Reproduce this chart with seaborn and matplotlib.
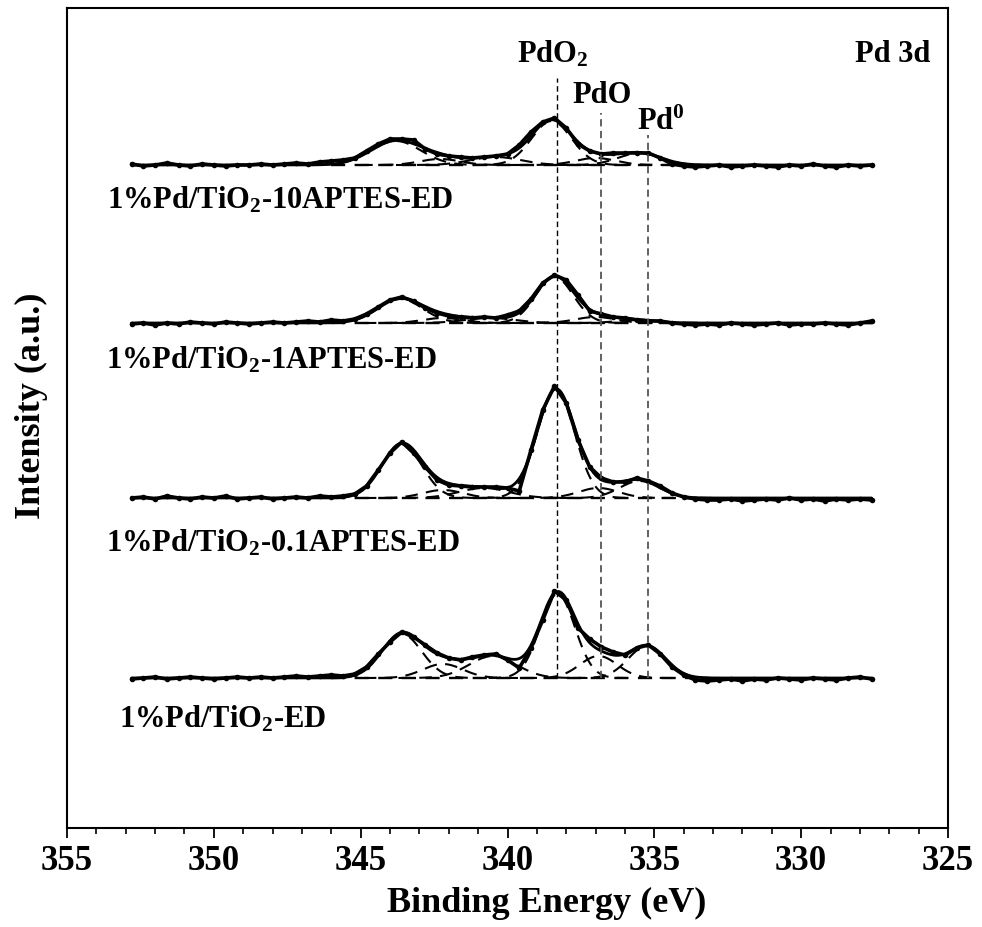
import numpy as np
import pandas as pd
import matplotlib
matplotlib.use("Agg")
import matplotlib.pyplot as plt
from matplotlib.ticker import MultipleLocator
import seaborn as sns

# ---------------- data ----------------
energy_start = 352.8
energy_step = 0.4
n_points = 64

samples = ["ED", "0.1APTES", "1APTES", "10APTES"]
sample_labels = ["1%Pd/TiO$_2$-ED", "1%Pd/TiO$_2$-0.1APTES-ED",
                 "1%Pd/TiO$_2$-1APTES-ED", "1%Pd/TiO$_2$-10APTES-ED"]
offsets = [150, 330, 505, 663]

meas_ed = [-1, 0, 1, -1, 0, 1, 0, -1, 0, 1, 0, 1, 0, 1, 2, 1, 2, 3, 2, 4,
           11, 24, 36, 46, 41, 33, 25, 20, 18, 21, 23, 24, 18, 10, 30, 58, 87, 78, 50, 39,
           31, 26, 23, 30, 33, 24, 11, 3, -2, -3, -2, -1, -3, -1, -2, 0, -1, -2, 0, -1,
           -2, 0, 1, -1]
meas_01 = [0, 1, -1, 2, 0, -1, 1, 0, 2, -1, 0, 1, -1, 0, 1, 0, 2, 1, 2, 4,
           12, 28, 45, 56, 45, 31, 18, 13, 12, 11, 11, 11, 10, 7, 48, 88, 112, 95, 58, 31,
           20, 16, 16, 20, 17, 12, 5, 1, -1, -2, -2, -1, -3, -2, -1, -2, 0, -2, -1, -3,
           -1, -2, -1, -2]
meas_1 = [-1, 0, -2, 0, -1, 1, 0, -1, 1, 0, -1, 0, 1, 0, 1, 2, 1, 3, 2, 4,
          9, 16, 23, 26, 22, 15, 10, 7, 6, 5, 6, 5, 8, 12, 24, 40, 48, 43, 28, 12,
          9, 6, 5, 3, 2, 2, 0, -1, -2, -1, -2, 0, -1, -2, -1, 0, -2, -1, -1, 0,
          -1, -2, 0, 2]
meas_10 = [1, -1, 0, 2, 0, -1, 1, 0, -1, 0, 0, 1, 0, 1, 2, 1, 3, 4, 5, 7,
           14, 21, 26, 26, 25, 16, 11, 9, 8, 7, 8, 9, 11, 20, 33, 43, 47, 37, 21, 14,
           11, 12, 12, 12, 12, 7, 1, -1, -2, -1, 0, -2, -1, 0, -1, -2, 0, -1, 1, -1,
           -2, 0, -1, 0]
measured = [meas_ed, meas_01, meas_1, meas_10]

# fitted components: PdO2 5/2, PdO 5/2, Pd0 5/2, PdO2 3/2, PdO 3/2, Pd0 3/2
centers_ed = [338.3, 336.9, 335.25, 343.6, 342.2, 340.5]
heights_ed = [84, 22, 32, 44, 14, 22]
fwhm_ed = [1.4, 1.5, 1.5, 1.6, 1.6, 1.9]

centers_01 = [338.35, 336.9, 335.5, 343.6, 342.2, 340.8]
heights_01 = [108, 10, 17, 54, 8, 10]
fwhm_01 = [1.5, 1.6, 1.6, 1.6, 1.6, 2.0]

centers_1 = [338.4, 337.0, 335.6, 343.65, 342.2, 340.6]
heights_1 = [46, 6, 3, 24, 5, 5]
fwhm_1 = [1.5, 1.6, 1.6, 1.8, 1.6, 2.0]

centers_10 = [338.5, 337.0, 335.5, 343.8, 342.3, 340.4]
heights_10 = [44, 7, 12, 24, 6, 8]
fwhm_10 = [1.6, 1.6, 1.7, 2.0, 1.6, 2.0]

fit_centers = [centers_ed, centers_01, centers_1, centers_10]
fit_heights = [heights_ed, heights_01, heights_1, heights_10]
fit_fwhm = [fwhm_ed, fwhm_01, fwhm_1, fwhm_10]

baseline_range = [346.0, 333.5]

ref_names = ["PdO$_2$", "PdO", "Pd$^0$"]
ref_energies = [338.3, 336.8, 335.2]
ref_tops = [750, 715, 693]

# ---------------- style ----------------
sns.set_theme(style="ticks")
plt.rcParams["font.family"] = ["Liberation Serif", "DejaVu Serif"]
plt.rcParams["font.weight"] = "bold"
plt.rcParams["text.color"] = "black"
plt.rcParams["axes.labelcolor"] = "black"
plt.rcParams["xtick.color"] = "black"
plt.rcParams["ytick.color"] = "black"
plt.rcParams["axes.edgecolor"] = "black"
plt.rcParams["mathtext.fontset"] = "custom"
plt.rcParams["mathtext.rm"] = "Liberation Serif:bold"
plt.rcParams["mathtext.it"] = "Liberation Serif:bold"
plt.rcParams["mathtext.bf"] = "Liberation Serif:bold"
plt.rcParams["mathtext.default"] = "rm"

fig = plt.figure(figsize=(9.82, 9.27), dpi=100)
ax = fig.add_axes([67 / 982, 1 - 828 / 927, 881 / 982, 820 / 927])

energy = energy_start - energy_step * np.arange(n_points)
fine = np.linspace(energy_start, energy_start - energy_step * (n_points - 1), 600)


def peak(e, c, h, w):
    return h * np.exp(-4 * np.log(2) * (e - c) ** 2 / w ** 2)


dash = (0, (6, 4))
for k, name in enumerate(samples):
    off = offsets[k]
    env = np.zeros_like(fine)
    for c, h, w in zip(fit_centers[k], fit_heights[k], fit_fwhm[k]):
        env += peak(fine, c, h, w)
    for c, h, w in zip(fit_centers[k], fit_heights[k], fit_fwhm[k]):
        seg = fine[(fine <= c + 1.7 * w) & (fine >= c - 1.7 * w)]
        ax.plot(seg, off + peak(seg, c, h, w), color="black", lw=1.5, ls=dash)
    ax.plot(baseline_range, [off, off], color="black", lw=1.7, ls=dash)
    ax.plot(fine, off + env, color="black", lw=2.0)
    df = pd.DataFrame({"energy": energy, "intensity": off + np.array(measured[k])})
    sns.lineplot(data=df, x="energy", y="intensity", ax=ax, color="black",
                 lw=2.6, marker="o", markersize=4.0, markeredgewidth=0, sort=False)

ref_styles = [dict(color="black", lw=1.0, ls=(0, (4, 2.5))),
              dict(color="#555555", lw=1.3, ls=(0, (4, 2.5))),
              dict(color="#555555", lw=1.3, ls=(0, (4, 2.5)))]
for e, top, st in zip(ref_energies, ref_tops, ref_styles):
    ax.plot([e, e], [150, top], **st)

fs = 22
ax.text(339.66, 766, ref_names[0], fontsize=fs, ha="left", va="baseline")
ax.text(336.79, 725, ref_names[1], fontsize=fs, ha="center", va="baseline")
ax.text(335.6, 698, ref_names[2], fontsize=fs, ha="left", va="baseline")
ax.text(325.6, 766, "Pd 3d", fontsize=fs, ha="right", va="baseline")

label_pos = [(353.23, 101), (353.67, 277), (353.67, 460), (353.64, 620)]
for (x, y), lab in zip(label_pos, sample_labels):
    ax.text(x, y, lab, fontsize=fs, ha="left", va="baseline")

ax.set_xlim(355, 325)
ax.set_ylim(0, 820)
ax.set_yticks([])
ax.xaxis.set_major_locator(MultipleLocator(5))
ax.xaxis.set_minor_locator(MultipleLocator(1))
ax.tick_params(axis="x", which="major", direction="out", length=7, width=1.3,
               labelsize=25, pad=5, colors="black")
ax.tick_params(axis="x", which="minor", direction="out", length=4, width=1.2)
for sp in ax.spines.values():
    sp.set_linewidth(1.5)
    sp.set_color("black")
    sp.set_visible(True)

ax.set_xlabel("Binding Energy (eV)", fontsize=26, fontweight="bold")
ax.xaxis.set_label_coords(0.545, -0.072)
ax.set_ylabel("Intensity (a.u.)", fontsize=26, fontweight="bold")
ax.yaxis.set_label_coords(-0.021, 0.515)

fig.savefig("out.png", dpi=100)
